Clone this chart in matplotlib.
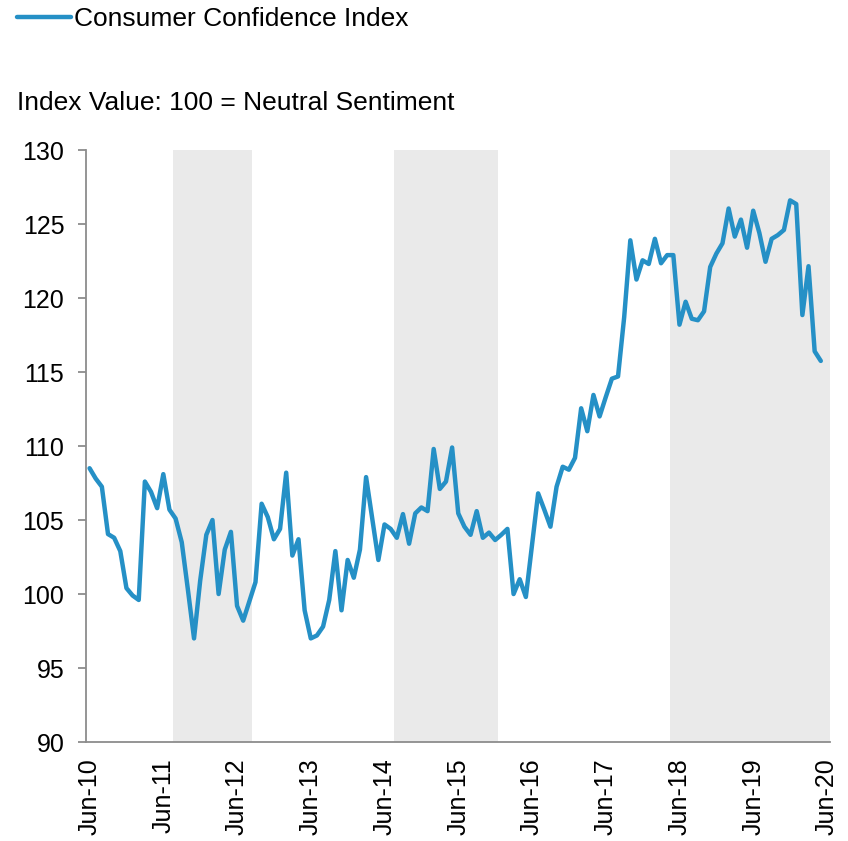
import numpy as np
import matplotlib.pyplot as plt

plt.rcParams['font.family'] = ['Liberation Sans', 'DejaVu Sans']

# monthly index values, Jun-10 .. May-20
cci = [108.5, 107.8, 107.25, 104.05, 103.8, 102.9, 100.4, 99.9, 99.6, 107.6,
       106.9, 105.8, 108.1, 105.7, 105.1, 103.5, 100.3, 97.0, 100.9, 104.0,
       105.0, 100.0, 103.0, 104.2, 99.2, 98.2, 99.5, 100.8, 106.1, 105.2,
       103.7, 104.4, 108.2, 102.6, 103.7, 98.9, 97.0, 97.2, 97.8, 99.6,
       102.9, 98.9, 102.3, 101.1, 103.0, 107.9, 105.1, 102.3, 104.7, 104.4,
       103.8, 105.4, 103.4, 105.45, 105.85, 105.6, 109.8, 107.1, 107.6, 109.9,
       105.45, 104.55, 104.0, 105.6, 103.8, 104.15, 103.65, 104.0, 104.4, 100.0,
       101.0, 99.8, 103.3, 106.8, 105.7, 104.55, 107.25, 108.6, 108.4, 109.2,
       112.55, 111.0, 113.45, 112.0, 113.3, 114.55, 114.7, 118.7, 123.9, 121.25,
       122.55, 122.3, 124.0, 122.35, 122.9, 122.9, 118.2, 119.75, 118.6, 118.5,
       119.1, 122.1, 123.0, 123.7, 126.05, 124.15, 125.3, 123.4, 125.9, 124.4,
       122.45, 124.0, 124.25, 124.6, 126.6, 126.35, 118.85, 122.15, 116.4, 115.75]

tick_labels = ['Jun-10', 'Jun-11', 'Jun-12', 'Jun-13', 'Jun-14', 'Jun-15',
               'Jun-16', 'Jun-17', 'Jun-18', 'Jun-19', 'Jun-20']

# shaded periods as (first month, last month) indices from Jun-10
shaded = [(14, 26), (50, 66), (95, 120)]

months = np.arange(len(cci))

fig = plt.figure(figsize=(8.48, 8.41), dpi=100)
ax = fig.add_axes([0.102, 0.1177, 0.8768, 0.7039])

for start, end in shaded:
    ax.axvspan(start - 0.5, end + 0.5, color='#eaeaea', lw=0, zorder=0)

line, = ax.plot(months, cci, color='#2590c6', lw=3.2, zorder=3,
                solid_joinstyle='round', solid_capstyle='round',
                label='Consumer Confidence Index')

ax.set_xlim(-0.5, 120.5)
ax.set_ylim(90, 130)
ax.set_yticks(np.arange(90, 131, 5))
ax.set_xticks(np.arange(0, 121, 12))
ax.set_xticklabels(tick_labels, rotation=90)

for side in ['top', 'right']:
    ax.spines[side].set_visible(False)
for side in ['left', 'bottom']:
    ax.spines[side].set_color('#8c8c8c')
    ax.spines[side].set_linewidth(1.3)

ax.tick_params(axis='y', length=6, width=1.3, color='#8c8c8c', pad=10,
               labelsize=18)
ax.tick_params(axis='x', length=0, pad=12, labelsize=18)

fig.legend(handles=[line], loc='center left', bbox_to_anchor=(0.02, 0.977),
           frameon=False, fontsize=19, handlelength=2.05, handletextpad=0.1,
           borderaxespad=0, borderpad=0)

fig.text(0.02, 1 - 103 / 841, 'Index Value: 100 = Neutral Sentiment',
         fontsize=19, va='center', ha='left')

fig.savefig('out.png', dpi=100)
